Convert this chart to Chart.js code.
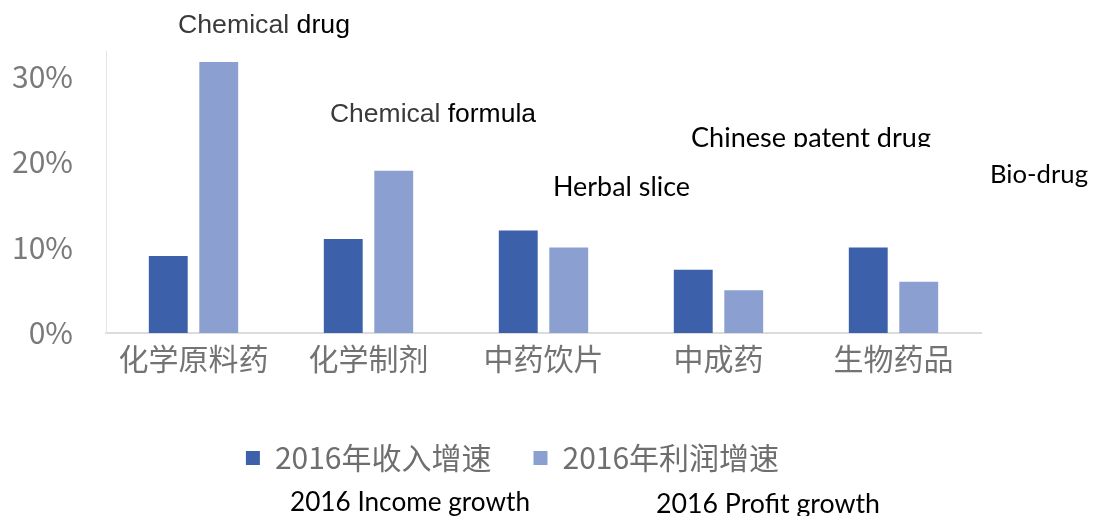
<!DOCTYPE html>
<html>
<head>
<meta charset="utf-8">
<script src="https://cdn.jsdelivr.net/npm/chart.js@4.4.0/dist/chart.umd.min.js"></script>
<style>html,body{margin:0;background:#fff}</style>
</head>
<body>
<canvas id="growth" width="1098" height="516"></canvas>
<script>
// 2016 growth by drug category (%)
const categories = ['化学原料药', '化学制剂', '中药饮片', '中成药', '生物药品'];
const incomeGrowth = [9.0, 11.0, 12.0, 7.4, 10.0];
const profitGrowth = [31.7, 19.0, 10.0, 5.0, 6.0];
const seriesNames = ['2016年收入增速', '2016年利润增速'];
const yTicks = [0, 10, 20, 30];

// english captions pasted over the picture
const notes = [
  {parts: [['Chemical ', '#3a3a3a'], ['drug', '#000']], x: 178, y: 33, w: 172, size: 26, family: 'Liberation Sans'},
  {parts: [['Chemical ', '#3a3a3a'], ['formula', '#000']], x: 330, y: 122, w: 206, size: 26, family: 'Liberation Sans'},
  {parts: [['Chinese patent drug', '#000']], x: 691, y: 147, w: 240, size: 27, family: 'Lato', clip: 147},
  {parts: [['Herbal slice', '#000']], x: 553, y: 196, w: 137, size: 27, family: 'Lato'},
  {parts: [['Bio-drug', '#000']], x: 990, y: 183, w: 98, size: 25, family: 'Lato'},
  {parts: [['2016 Income growth', '#000']], x: 290, y: 511, w: 240, size: 27, family: 'Lato'},
  {parts: [['2016 Profit growth', '#000']], x: 656, y: 513, w: 224, size: 27, family: 'Lato'}
];

const notesPlugin = {
  id: 'notes',
  afterDraw(chart) {
    const ctx = chart.ctx;
    notes.forEach(n => {
      const full = n.parts.map(p => p[0]).join('');
      ctx.save();
      if (n.clip) {
        ctx.beginPath();
        ctx.rect(0, 0, chart.width, n.clip);
        ctx.clip();
      }
      ctx.font = n.size + 'px "' + n.family + '"';
      ctx.textBaseline = 'alphabetic';
      ctx.textAlign = 'left';
      const sx = n.w / ctx.measureText(full).width;
      ctx.translate(n.x, n.y);
      ctx.scale(sx, 1);
      let x = 0;
      n.parts.forEach(p => {
        ctx.fillStyle = p[1];
        ctx.fillText(p[0], x, 0);
        x += ctx.measureText(p[0]).width;
      });
      ctx.restore();
    });
  }
};

Chart.defaults.font.family = '"Noto Sans CJK SC"';

new Chart(document.getElementById('growth').getContext('2d'), {
  type: 'bar',
  data: {
    labels: categories,
    datasets: [
      {label: seriesNames[0], data: incomeGrowth, backgroundColor: '#3c60a9', categoryPercentage: 0.577, barPercentage: 0.77},
      {label: seriesNames[1], data: profitGrowth, backgroundColor: '#8c9fd1', categoryPercentage: 0.577, barPercentage: 0.77}
    ]
  },
  options: {
    responsive: false,
    animation: false,
    devicePixelRatio: 1,
    layout: {padding: {left: 10, right: 83, top: 48, bottom: 33}},
    plugins: {
      tooltip: {enabled: false},
      legend: {
        position: 'bottom',
        labels: {boxWidth: 14, boxHeight: 14, padding: 42, color: '#6e6e6e', font: {size: 30}}
      }
    },
    scales: {
      x: {
        grid: {display: false, drawTicks: false},
        border: {display: true, color: '#dcdcdc', width: 2},
        ticks: {padding: 8, color: '#737373', font: {size: 30}},
        afterFit: s => { s.height = 68; }
      },
      y: {
        min: 0, max: 33,
        grid: {display: false, drawTicks: false},
        border: {display: true, color: '#e6e6e6'},
        ticks: {padding: 33, color: '#7a7a7a', font: {size: 30}, callback: v => v + '%'},
        afterBuildTicks: s => { s.ticks = yTicks.map(v => ({value: v})); },
        afterFit: s => { s.width = 96; }
      },
      yR: {
        position: 'right',
        grid: {display: false, drawTicks: false},
        border: {display: false},
        ticks: {display: false},
        afterFit: s => { s.width = 34; }
      }
    }
  },
  plugins: [notesPlugin]
});
</script>
</body>
</html>
